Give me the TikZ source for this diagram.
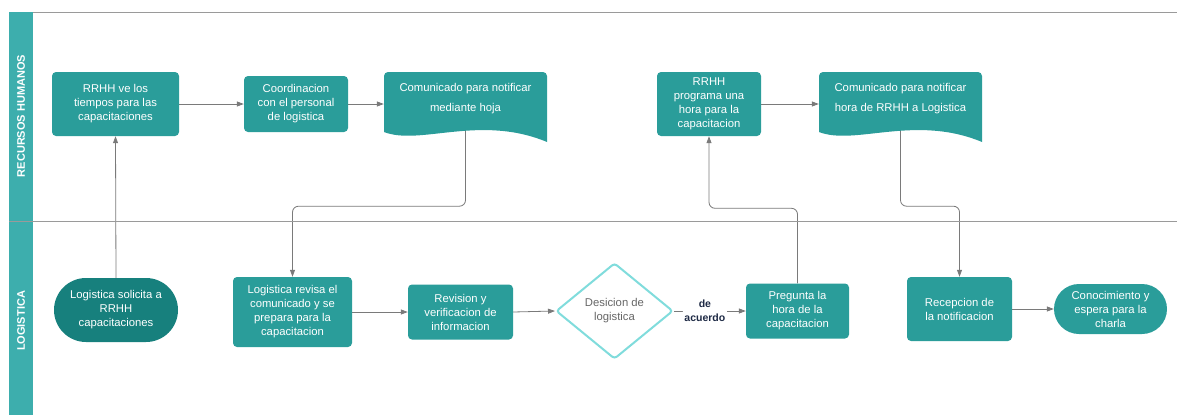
\documentclass[tikz,border=0pt]{standalone}
\usepackage{fontspec}
\setmainfont{Liberation Sans}
\usetikzlibrary{shapes.geometric,arrows.meta}
\pgfdeclarelayer{bg}
\pgfsetlayers{bg,main}

\definecolor{tealbox}{HTML}{2A9D9A}
\definecolor{tealdark}{HTML}{17807D}
\definecolor{lanebar}{HTML}{3DAEAD}
\definecolor{diamondedge}{HTML}{80DCDC}
\definecolor{linegray}{HTML}{7A7A7A}
\definecolor{rulegray}{HTML}{9A9A9A}
\definecolor{labelnavy}{HTML}{1E2A45}
\definecolor{textgray}{HTML}{666666}

\begin{document}
\begin{tikzpicture}[x=1pt,y=-1pt,
  boxtext/.style={text=white, align=center, font=\fontsize{11.3}{14}\selectfont, inner sep=0pt},
  proc/.style={boxtext, fill=tealbox, rounded corners=4pt},
  term/.style={boxtext, rounded corners=#1},
  doctext/.style={text=white, align=center, font=\fontsize{11.3}{20}\selectfont, inner sep=0pt},
  docfill/.style={fill=tealbox},
  conn/.style={draw=linegray, line width=0.8pt, rounded corners=6pt,
    -{Triangle[length=7pt,width=5pt,fill=linegray]}},
  lanelabel/.style={text=white, font=\fontsize{11}{12}\selectfont\bfseries, rotate=90, inner sep=0pt},
  edgelabel/.style={fill=white, text=labelnavy, align=center, font=\fontsize{10.5}{14}\selectfont\bfseries, inner sep=1.5pt}
]
\useasboundingbox (0,0) rectangle (1177,415);

% swimlane frame
\fill[lanebar] (9,12) rectangle (33,415);
\draw[rulegray, line width=0.8pt] (33,12) -- (1177,12);
\draw[rulegray, line width=0.8pt] (9,221) -- (1177,221);
\node[lanelabel] (lane1) at (21,116) {RECURSOS HUMANOS};
\node[lanelabel] (lane2) at (21,321) {LOGISTICA};

% document shapes (wavy bottom edge)
\fill[docfill, rounded corners=4pt] (384,132) -- (384,72) -- (547,72) -- (547,100)
  [sharp corners] -- (547,142) .. controls (480,114) and (420,146) .. (384,132) -- cycle;
\fill[docfill, rounded corners=4pt] (819,132) -- (819,72) -- (982,72) -- (982,100)
  [sharp corners] -- (982,142) .. controls (915,114) and (855,146) .. (819,132) -- cycle;

% Recursos Humanos lane
\node[proc, minimum width=127pt, minimum height=64pt] (n1) at (115.5,104)
  {RRHH ve los\\tiempos para las\\capacitaciones};
\node[proc, minimum width=104pt, minimum height=56pt] (n2) at (296,104)
  {Coordinacion\\con el personal\\de logistica};
\node[doctext, minimum width=163pt, minimum height=54pt] (d1) at (465.5,99)
  {Comunicado para notificar\\mediante hoja};
\node[proc, minimum width=104pt, minimum height=64pt] (n4) at (709,104)
  {RRHH\\programa una\\hora para la\\capacitacion};
\node[doctext, minimum width=163pt, minimum height=54pt] (d2) at (900.5,99)
  {Comunicado para notificar\\hora de RRHH a Logistica};

% Logistica lane
\node[term=32pt, fill=tealdark, minimum width=124pt, minimum height=64pt] (n6) at (116,310)
  {Logistica solicita a\\RRHH\\capacitaciones};
\node[proc, minimum width=119pt, minimum height=70pt] (n7) at (292.5,312)
  {Logistica revisa el\\comunicado y se\\prepara para la\\capacitacion};
\node[proc, minimum width=105pt, minimum height=55pt] (n8) at (460.5,312)
  {Revision y\\verificacion de\\informacion};
\node[diamond, draw=diamondedge, line width=2pt, fill=white, rounded corners=3pt,
  minimum width=117pt, minimum height=96pt, aspect=1.2, inner sep=0pt,
  text=textgray, align=center, font=\fontsize{11.3}{14}\selectfont] (n9) at (614.5,311)
  {Desicion de\\logistica};
\node[proc, minimum width=103pt, minimum height=55pt] (n11) at (797.5,311)
  {Pregunta la\\hora de la\\capacitacion};
\node[proc, minimum width=105pt, minimum height=64pt] (n12) at (959.5,309)
  {Recepcion de\\la notificacion};
\node[term=25pt, fill=tealbox, minimum width=113pt, minimum height=50pt] (n13) at (1110.5,309)
  {Conocimiento y\\espera para la\\charla};

% connectors
\begin{pgfonlayer}{bg}
\draw[conn] (n6.north) -- (n1.south);
\draw[conn] (n1.east) -- (n2.west);
\draw[conn] (n2.east) -- (n2.east -| d1.west);
\draw[conn] (d1.south) -- ++(0,80) -| (n7.north);
\draw[conn] (n7.east) -- (n8.west);
\draw[conn] (n8.east) -- (n9.west);
\draw[conn] (n11.north) -- ++(0,-75) -| (n4.south);
\draw[conn] (n4.east) -- (n4.east -| d2.west);
\draw[conn] (d2.south) -- ++(0,80) -| (n12.north);
\draw[conn] (n12.east) -- (n13.west);
\end{pgfonlayer}
\draw[conn] (n9.east) -- node[edgelabel, pos=0.43] (lbl) {de\\acuerdo} (n11.west);
\end{tikzpicture}
\end{document}
